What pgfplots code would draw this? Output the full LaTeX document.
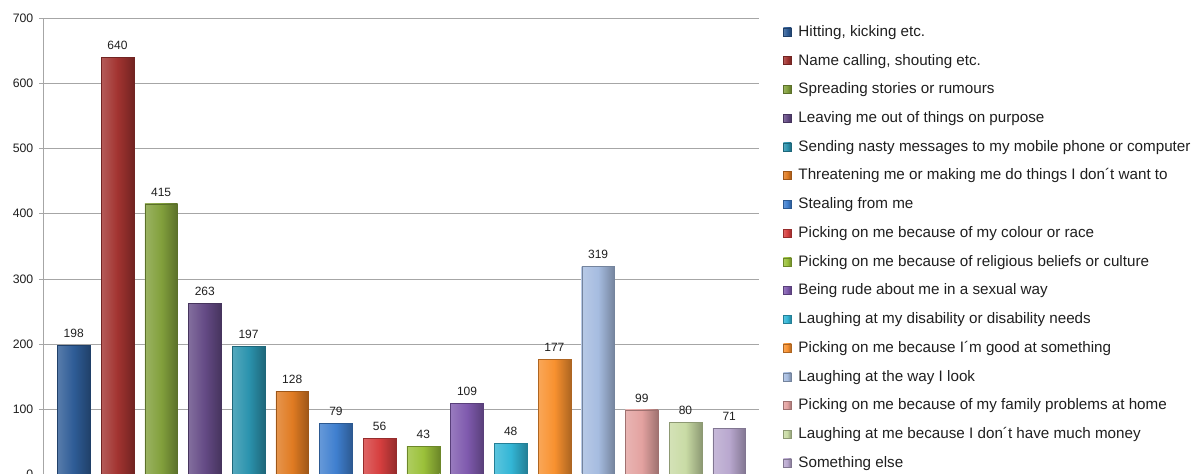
\documentclass[border=0pt]{standalone}
\usepackage{pgfplots}
\pgfplotsset{compat=1.18}
\usepackage{fontspec}
\setmainfont{Liberation Sans}

\definecolor{c1}{HTML}{2E5C96}
\definecolor{c2}{HTML}{A23330}
\definecolor{c3}{HTML}{82A03C}
\definecolor{c4}{HTML}{644A85}
\definecolor{c5}{HTML}{2B93AE}
\definecolor{c6}{HTML}{E07B22}
\definecolor{c7}{HTML}{3F7FCF}
\definecolor{c8}{HTML}{D63F3F}
\definecolor{c9}{HTML}{9BC13A}
\definecolor{c10}{HTML}{7F5AAE}
\definecolor{c11}{HTML}{33B6D6}
\definecolor{c12}{HTML}{F8912F}
\definecolor{c13}{HTML}{A6BCE0}
\definecolor{c14}{HTML}{E3A2A0}
\definecolor{c15}{HTML}{C9DBA5}
\definecolor{c16}{HTML}{B9A8CF}
\definecolor{gridgray}{HTML}{A6A6A6}
\definecolor{labelgray}{HTML}{1F1F1F}

\pgfplotsset{
  mybar/.style={
    ybar, bar width=0.75, bar shift=0pt,
    draw=#1!70!black, line width=0.3pt,
    left color=#1!80!white, right color=#1!70!black, middle color=#1,
    legend image code/.code={
      \draw[##1] (0pt,-2.6pt) rectangle (6pt,3.4pt);
    },
  },
}

\begin{document}
\begin{tikzpicture}
\begin{axis}[
  at={(0,0)}, anchor=south west,
  scale only axis, width=537pt, height=342.3pt,
  xmin=0.304, xmax=16.69,
  ymin=0, ymax=700,
  ytick={0,100,...,700},
  xtick=\empty,
  axis y line*=left, axis x line*=bottom,
  axis line style={draw=gridgray, line width=0.6pt},
  ymajorgrids, grid style={draw=gridgray, line width=0.6pt},
  tick align=outside, major tick length=3pt,
  tick style={draw=gridgray, line width=0.6pt},
  /pgf/number format/assume math mode=true,
  yticklabel style={font=\fontsize{9.2}{10}\selectfont, text=labelgray, xshift=-1pt},
  nodes near coords,
  every node near coord/.append style={font=\fontsize{9}{10}\selectfont,
    text=labelgray, inner sep=0pt, yshift=5.5pt},
  legend style={draw=none, fill=none, at={(1.0328,0.9847)}, anchor=north west,
    inner sep=0pt, font=\fontsize{11.4}{12}\selectfont,
    nodes={inner sep=0pt, text height=8.2pt, text depth=2.4pt, text=labelgray},
    row sep=10.95pt, column sep=5.25pt},
  legend cell align=left,
]
\addplot[mybar=c1] coordinates {(1,198)};
\addlegendentry{Hitting, kicking etc.}
\addplot[mybar=c2] coordinates {(2,640)};
\addlegendentry{Name calling, shouting etc.}
\addplot[mybar=c3] coordinates {(3,415)};
\addlegendentry{Spreading stories or rumours}
\addplot[mybar=c4] coordinates {(4,263)};
\addlegendentry{Leaving me out of things on purpose}
\addplot[mybar=c5] coordinates {(5,197)};
\addlegendentry{Sending nasty messages to my mobile phone or computer}
\addplot[mybar=c6] coordinates {(6,128)};
\addlegendentry{Threatening me or making me do things I don´t want to}
\addplot[mybar=c7] coordinates {(7,79)};
\addlegendentry{Stealing from me}
\addplot[mybar=c8] coordinates {(8,56)};
\addlegendentry{Picking on me because of my colour or race}
\addplot[mybar=c9] coordinates {(9,43)};
\addlegendentry{Picking on me because of religious beliefs or culture}
\addplot[mybar=c10] coordinates {(10,109)};
\addlegendentry{Being rude about me in a sexual way}
\addplot[mybar=c11] coordinates {(11,48)};
\addlegendentry{Laughing at my disability or disability needs}
\addplot[mybar=c12] coordinates {(12,177)};
\addlegendentry{Picking on me because I´m good at something}
\addplot[mybar=c13] coordinates {(13,319)};
\addlegendentry{Laughing at the way I look}
\addplot[mybar=c14] coordinates {(14,99)};
\addlegendentry{Picking on me because of my family problems at home}
\addplot[mybar=c15] coordinates {(15,80)};
\addlegendentry{Laughing at me because I don´t have much money}
\addplot[mybar=c16] coordinates {(16,71)};
\addlegendentry{Something else}
\end{axis}
\pgfresetboundingbox
\useasboundingbox (-32.5pt,1.1pt) rectangle (863.75pt,355.9pt);
\end{tikzpicture}
\end{document}
